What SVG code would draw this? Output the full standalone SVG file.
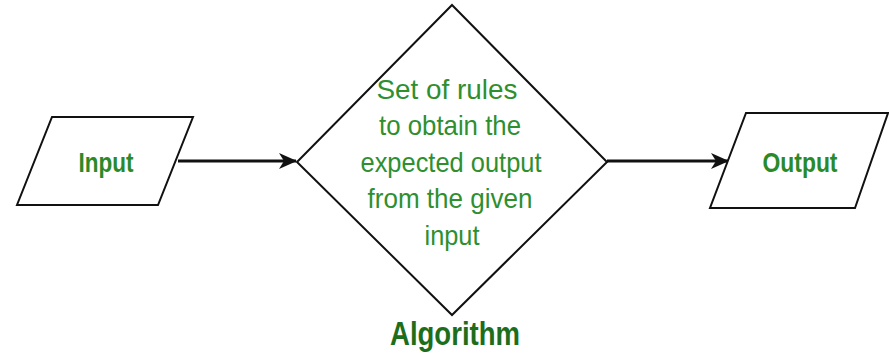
<svg xmlns="http://www.w3.org/2000/svg" width="889" height="357" viewBox="0 0 889 357">
<defs>
<style>
.shape{fill:#fff;stroke:#111;stroke-width:2;stroke-linejoin:miter}
.conn{fill:none;stroke:#111;stroke-width:3}
.lbl{font-family:"Liberation Sans",Arial,sans-serif;font-weight:bold;font-size:27px;fill:#2a8a2a;text-anchor:middle}
.body{font-family:"Liberation Sans",Arial,sans-serif;font-size:28px;fill:#2f8f2f;text-anchor:middle}
.title{font-family:"Liberation Sans",Arial,sans-serif;font-weight:bold;font-size:33px;fill:#1c6e1c;text-anchor:middle}
</style>
<marker id="arr" viewBox="0 0 18 18" refX="17" refY="9" markerWidth="18" markerHeight="18" markerUnits="userSpaceOnUse" orient="auto">
<path d="M0,1 L18,9 L0,17 L5,9 Z" fill="#111"/>
</marker>
</defs>
<rect width="889" height="357" fill="#fff"/>
<g id="connectors">
<line class="conn" x1="178" y1="161" x2="296" y2="161" marker-end="url(#arr)"/>
<line class="conn" x1="607" y1="161" x2="728" y2="161" marker-end="url(#arr)"/>
</g>
<g id="input">
<polygon class="shape" points="52,117 193,117 158,205 17,205"/>
<text class="lbl" x="106" y="172" textLength="55" lengthAdjust="spacingAndGlyphs">Input</text>
</g>
<g id="algorithm">
<polygon class="shape" points="452,5 607,162 452,315 297,162"/>
<text class="body" x="447" y="99" textLength="141" lengthAdjust="spacingAndGlyphs">Set of rules</text>
<text class="body" x="450" y="135" textLength="142" lengthAdjust="spacingAndGlyphs">to obtain the</text>
<text class="body" x="451" y="172" textLength="181" lengthAdjust="spacingAndGlyphs">expected output</text>
<text class="body" x="450" y="208" textLength="165" lengthAdjust="spacingAndGlyphs">from the given</text>
<text class="body" x="452" y="245" textLength="55" lengthAdjust="spacingAndGlyphs">input</text>
<text class="title" x="455" y="345" textLength="130" lengthAdjust="spacingAndGlyphs">Algorithm</text>
</g>
<g id="output">
<polygon class="shape" points="746,113 888,113 855,208 710,208"/>
<text class="lbl" x="800" y="172" textLength="75" lengthAdjust="spacingAndGlyphs">Output</text>
</g>
</svg>
